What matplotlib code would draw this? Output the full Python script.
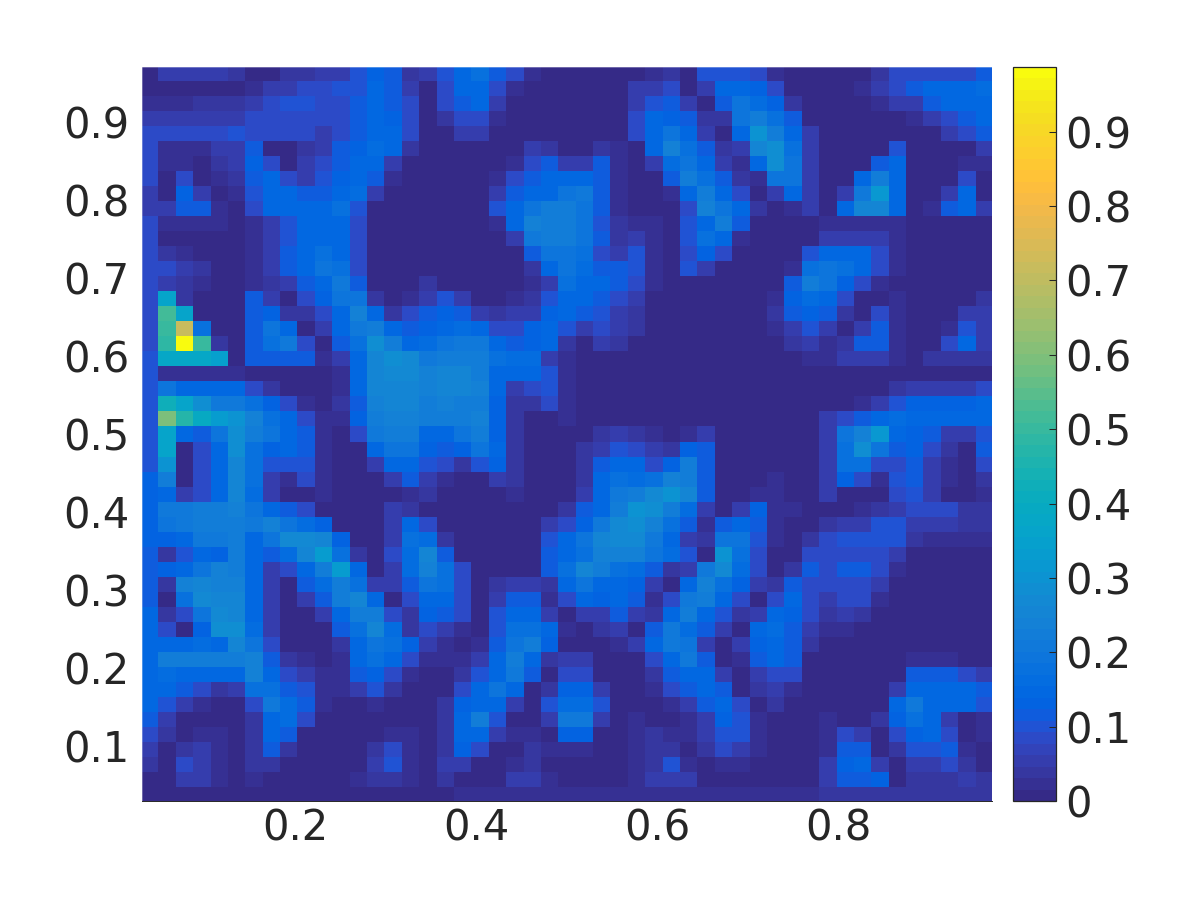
import matplotlib
matplotlib.use('Agg')
import matplotlib.pyplot as plt
from matplotlib.colors import ListedColormap
import numpy as np

# Values in hundredths, top row first, split in three blocks of columns
left_block = [
    [1,6,6,6,6,4,1,1,4,4,5,6,10,13,11,4,6],
    [1,1,1,1,1,1,2,5,6,8,8,10,10,14,11,6,0],
    [2,2,2,4,4,4,5,8,10,10,8,8,11,14,11,8,0],
    [5,5,5,5,6,6,9,9,9,8,8,8,12,14,13,8,0],
    [8,8,8,8,8,10,8,8,8,8,5,8,12,15,14,8,0],
    [8,2,2,2,5,6,12,1,1,4,6,11,13,16,14,4,0],
    [8,2,2,1,4,5,13,9,1,5,9,12,14,15,6,0,0],
    [8,1,9,1,2,4,11,15,9,5,10,13,15,12,2,0,0],
    [6,1,13,5,1,2,10,15,15,11,12,14,16,5,0,0,0],
    [6,5,11,11,2,1,8,14,15,15,14,17,10,1,0,0,0],
    [9,2,2,2,2,1,2,6,10,14,15,14,8,1,0,0,0],
    [9,1,1,1,1,1,2,6,10,14,15,15,8,1,0,0,0],
    [9,4,2,1,1,1,2,6,12,14,17,15,8,1,0,0,0],
    [9,8,6,4,1,1,2,6,12,14,19,17,8,1,0,0,0],
    [9,5,4,2,1,1,2,4,6,12,15,21,11,1,0,0,4],
    [9,37,4,0,0,0,11,5,1,8,13,20,19,4,1,2,6],
    [8,52,37,0,0,0,11,13,4,4,9,15,24,15,4,8,11],
    [8,50,72,18,0,0,11,19,15,0,5,14,21,23,14,12,13],
    [8,49,99,50,4,0,11,18,21,9,1,11,18,29,23,15,16],
    [10,38,38,38,35,0,11,12,12,12,2,6,15,26,28,27,21],
    [10,2,2,2,2,2,1,1,1,1,1,2,15,26,27,27,24],
    [10,19,14,14,14,14,9,4,0,0,0,2,15,25,26,26,24],
    [10,42,36,29,21,21,17,13,8,2,0,4,12,24,25,25,22],
    [10,60,47,39,33,30,24,17,15,9,2,2,13,23,24,24,22],
    [10,37,14,11,19,29,22,20,15,11,2,0,9,21,22,22,15],
    [10,37,0,8,15,28,18,13,14,11,2,0,1,15,19,19,13],
    [10,30,0,8,15,25,17,10,10,10,2,0,0,6,14,14,10],
    [13,23,0,8,15,25,17,6,2,8,2,0,0,0,6,11,5],
    [13,15,5,8,15,25,16,6,1,1,2,0,0,0,0,2,4],
    [13,21,21,22,22,24,20,15,12,8,1,0,0,0,6,4,0],
    [13,20,21,22,22,23,21,24,19,16,13,1,0,0,6,15,8],
    [13,13,15,21,21,22,15,19,27,27,25,13,0,0,6,18,16],
    [12,4,10,15,13,23,15,12,16,25,33,18,4,1,8,16,25],
    [11,13,15,19,24,22,15,5,9,15,22,33,14,0,6,16,24],
    [12,4,24,25,24,24,14,5,1,11,16,22,18,5,5,12,19],
    [12,0,17,27,25,26,14,5,0,5,12,22,25,14,0,9,15],
    [14,4,8,20,27,25,15,5,0,0,6,14,23,23,8,4,13],
    [14,8,0,13,28,28,16,6,0,0,1,11,17,25,16,4,8],
    [14,15,15,16,15,26,19,9,1,0,0,4,14,20,17,13,5],
    [14,22,22,22,22,23,24,12,4,2,1,2,14,17,15,9,2],
    [14,16,14,14,14,14,24,14,9,6,2,2,11,13,9,2,1],
    [14,15,11,9,4,6,18,17,12,10,2,2,5,10,4,1,0],
    [14,10,6,2,1,0,9,21,16,11,2,0,1,2,1,0,0],
    [12,5,1,0,1,0,4,15,16,9,0,0,0,0,0,1,0],
    [8,4,1,2,2,0,4,14,12,1,0,0,0,0,2,2,0],
    [6,1,4,5,2,0,4,12,4,0,0,0,0,4,8,2,0],
    [4,0,8,5,2,0,4,4,0,0,0,0,0,6,10,2,0],
    [1,1,5,5,2,0,2,0,0,0,0,0,2,4,4,2,0],
    [1,1,1,1,1,1,1,1,1,1,1,1,1,1,1,1,1],
]
middle_block = [
    [10,14,17,12,8,2,0,0,0,0,0,0,2,4,1,10],
    [8,15,15,9,2,0,0,0,0,0,0,5,6,8,1,6],
    [8,11,14,6,0,0,0,0,0,0,0,6,10,12,5,0],
    [4,8,8,2,0,0,0,0,0,0,0,8,14,13,11,4],
    [0,5,5,0,0,0,0,0,0,0,0,8,15,20,14,6],
    [0,0,0,0,0,5,4,0,0,4,2,0,14,24,18,11],
    [0,0,0,0,2,9,12,6,6,12,2,0,5,16,20,15],
    [0,0,0,2,8,12,14,14,14,12,2,0,0,11,23,18],
    [0,0,0,6,11,14,14,20,21,12,2,0,0,2,15,22],
    [0,0,0,10,15,20,22,23,20,12,2,0,0,0,9,24],
    [0,0,0,2,15,24,23,23,19,10,4,2,2,0,10,15],
    [0,0,0,0,6,21,22,22,20,11,4,5,2,0,10,17],
    [0,0,0,0,0,12,20,20,18,9,5,10,2,0,9,13],
    [0,0,0,0,0,4,15,20,16,11,11,10,2,0,10,6],
    [1,0,0,0,0,2,6,18,14,14,12,8,2,0,1,0],
    [10,5,0,1,2,4,10,14,14,12,9,5,1,0,0,0],
    [13,12,5,4,5,6,13,15,12,10,6,4,0,0,0,0],
    [14,16,15,8,8,13,14,10,5,9,5,4,0,0,0,0],
    [19,21,21,15,11,13,14,4,1,5,4,0,0,0,0,0],
    [23,23,23,18,16,16,6,2,0,0,1,0,0,0,0,0],
    [25,25,23,14,14,15,10,2,0,0,0,0,0,0,0,0],
    [25,25,24,14,6,9,10,2,0,0,0,0,0,0,0,0],
    [24,22,23,13,4,4,9,2,0,0,0,0,0,0,0,0],
    [23,23,24,13,4,0,1,2,0,0,0,0,0,0,0,0],
    [15,19,22,13,4,0,0,0,0,4,5,4,2,0,2,6],
    [11,13,19,14,4,0,0,0,4,5,10,9,5,4,13,11],
    [8,4,10,13,4,0,0,0,4,12,14,14,9,13,22,11],
    [2,1,1,6,4,0,0,0,4,15,18,16,18,24,23,11],
    [1,0,0,0,2,0,0,0,5,15,21,22,27,30,25,11],
    [0,0,0,0,0,0,1,4,11,15,22,30,29,22,16,6],
    [0,0,0,0,0,1,5,8,13,21,27,28,24,18,11,2],
    [4,0,0,0,0,1,10,14,19,25,27,27,21,14,5,4],
    [12,0,0,0,0,1,11,15,18,24,24,24,20,16,10,0],
    [17,9,0,0,1,1,11,18,26,23,18,16,11,4,6,21],
    [17,9,0,4,6,5,4,15,20,14,15,13,6,0,14,24],
    [15,9,0,6,11,11,2,9,15,13,14,11,2,8,21,22],
    [11,8,0,10,14,14,5,0,5,6,11,6,4,15,22,15],
    [6,2,0,10,17,17,14,2,0,4,5,0,11,21,16,12],
    [2,1,2,12,20,22,13,0,0,0,2,5,14,21,20,6],
    [2,2,6,14,22,15,4,5,5,0,0,1,8,15,21,11],
    [0,4,10,15,21,11,1,8,8,1,0,0,4,12,15,14],
    [1,9,15,20,14,0,4,13,13,5,0,0,2,8,12,15],
    [4,13,14,14,5,0,10,16,16,10,0,0,0,2,5,12],
    [4,15,22,10,0,0,5,21,21,5,0,2,0,0,2,6],
    [4,15,15,5,2,2,1,13,13,0,0,2,4,2,2,6],
    [4,13,9,0,1,4,2,2,2,0,0,2,4,4,0,4],
    [5,5,1,1,2,4,1,0,0,0,0,2,4,10,2,1],
    [4,0,1,1,5,5,2,1,0,0,0,2,5,5,5,0],
    [1,2,2,2,2,2,2,2,2,2,2,2,2,2,2,2],
]
right_block = [
    [10,10,8,2,0,0,0,0,1,4,9,9,9,9,8,11],
    [14,14,13,9,0,0,0,1,2,6,9,12,14,14,15,16],
    [11,20,16,13,4,0,0,0,0,2,5,6,11,14,14,14],
    [4,20,23,18,11,0,0,0,0,0,0,2,6,9,12,14],
    [0,14,30,22,15,5,0,0,0,0,0,0,1,5,9,11],
    [4,6,25,28,18,5,0,0,0,0,10,0,0,0,1,5],
    [6,2,14,29,19,5,0,0,0,12,14,0,0,0,2,2],
    [12,4,2,19,19,5,0,0,14,22,14,0,0,0,8,1],
    [15,9,1,6,14,5,0,6,21,31,14,0,0,5,14,0],
    [19,14,4,0,2,5,0,15,26,26,14,0,2,12,14,6],
    [22,11,0,0,0,0,2,2,2,2,2,0,1,1,1,1],
    [15,2,0,0,0,1,5,5,5,5,2,0,0,0,0,0],
    [9,0,0,0,0,10,14,14,14,9,2,0,0,0,0,0],
    [0,0,0,0,2,17,20,18,14,9,2,0,0,0,0,0],
    [0,0,0,0,12,22,19,13,9,2,0,0,0,0,0,0],
    [0,0,0,2,13,16,14,9,1,1,2,0,0,0,0,4],
    [0,0,0,4,12,13,12,4,1,8,2,0,0,0,5,6],
    [0,0,0,2,5,10,5,0,6,11,2,0,0,2,10,5],
    [0,0,0,0,4,5,2,4,11,11,2,0,0,8,14,6],
    [0,0,0,0,0,2,2,5,5,5,2,0,4,4,4,4],
    [0,0,0,0,0,0,0,0,0,0,0,1,1,1,1,1],
    [0,0,0,0,0,0,0,0,0,1,4,6,6,6,6,9],
    [0,0,0,0,0,0,0,0,2,5,10,13,13,13,13,14],
    [0,0,0,1,0,0,5,9,12,14,16,14,14,14,14,15],
    [0,0,1,1,0,0,5,19,24,32,14,13,11,5,5,10],
    [0,0,1,1,1,0,5,18,29,19,11,13,9,4,0,11],
    [0,0,1,1,1,0,5,17,18,8,8,12,5,2,0,8],
    [0,0,1,2,1,0,5,13,8,2,10,11,5,2,0,4],
    [0,0,2,2,1,0,6,1,0,1,8,10,5,1,1,2],
    [0,5,13,2,2,0,0,1,2,4,6,9,8,8,4,4],
    [11,15,11,2,1,1,4,5,6,10,10,5,5,5,4,4],
    [19,19,10,2,1,4,8,10,10,10,10,4,2,2,2,2],
    [30,17,9,0,0,8,9,9,9,9,6,0,0,0,0,0],
    [27,16,9,0,4,11,8,11,11,9,2,0,0,0,0,0],
    [18,13,5,4,11,9,8,9,9,5,0,0,0,0,0,0],
    [15,9,0,8,14,8,5,8,8,2,0,0,0,0,0,0],
    [10,4,5,14,13,8,4,5,4,0,0,0,0,0,0,0],
    [5,1,14,16,11,5,2,2,0,0,0,0,0,0,0,0],
    [0,6,13,15,11,4,0,0,0,0,0,0,0,0,0,0],
    [0,2,11,14,11,1,0,0,0,0,0,2,2,2,1,1],
    [5,0,6,9,8,1,0,0,0,0,0,11,11,11,8,6],
    [11,1,4,5,2,1,0,0,0,0,5,15,15,15,14,11],
    [15,9,0,4,0,0,0,0,0,0,15,21,15,14,14,10],
    [13,10,2,0,0,0,2,1,0,4,13,18,15,6,1,2],
    [10,10,2,0,0,0,2,9,5,1,8,13,14,9,0,2],
    [8,5,2,0,0,0,2,12,12,1,4,10,10,11,2,1],
    [2,2,1,0,0,0,5,13,14,6,1,6,6,9,4,1],
    [1,0,0,0,0,0,5,11,11,13,1,4,4,4,5,4],
    [2,2,2,2,2,2,4,4,4,4,4,4,4,4,4,4],
]
x_ticks = [0.2, 0.4, 0.6, 0.8]
y_ticks = [0.1, 0.2, 0.3, 0.4, 0.5, 0.6, 0.7, 0.8, 0.9]
bar_ticks = [0, 0.1, 0.2, 0.3, 0.4, 0.5, 0.6, 0.7, 0.8, 0.9]

# MATLAB parula, 64 levels
parula = ListedColormap([
    (0.2081,0.1663,0.5292),(0.2116,0.1898,0.5777),(0.2123,0.2138,0.6270),(0.2081,0.2386,0.6771),
    (0.1959,0.2645,0.7279),(0.1707,0.2919,0.7792),(0.1253,0.3242,0.8303),(0.0591,0.3598,0.8683),
    (0.0117,0.3875,0.8820),(0.0060,0.4086,0.8828),(0.0165,0.4266,0.8786),(0.0329,0.4430,0.8720),
    (0.0498,0.4586,0.8641),(0.0629,0.4737,0.8554),(0.0723,0.4887,0.8467),(0.0779,0.5040,0.8384),
    (0.0793,0.5200,0.8312),(0.0749,0.5375,0.8263),(0.0641,0.5570,0.8240),(0.0488,0.5772,0.8228),
    (0.0343,0.5966,0.8199),(0.0265,0.6137,0.8135),(0.0239,0.6287,0.8038),(0.0231,0.6418,0.7913),
    (0.0228,0.6535,0.7768),(0.0267,0.6642,0.7607),(0.0384,0.6743,0.7436),(0.0590,0.6838,0.7254),
    (0.0843,0.6928,0.7062),(0.1133,0.7015,0.6859),(0.1453,0.7098,0.6646),(0.1801,0.7177,0.6424),
    (0.2178,0.7250,0.6193),(0.2586,0.7317,0.5954),(0.3022,0.7376,0.5712),(0.3482,0.7424,0.5473),
    (0.3953,0.7459,0.5244),(0.4420,0.7481,0.5033),(0.4871,0.7491,0.4840),(0.5300,0.7491,0.4661),
    (0.5709,0.7485,0.4494),(0.6099,0.7473,0.4337),(0.6473,0.7456,0.4188),(0.6834,0.7435,0.4044),
    (0.7184,0.7411,0.3905),(0.7525,0.7384,0.3768),(0.7858,0.7356,0.3633),(0.8185,0.7327,0.3498),
    (0.8507,0.7299,0.3360),(0.8824,0.7274,0.3217),(0.9139,0.7258,0.3063),(0.9450,0.7261,0.2886),
    (0.9739,0.7314,0.2666),(0.9938,0.7455,0.2403),(0.9990,0.7653,0.2164),(0.9955,0.7861,0.1967),
    (0.9880,0.8066,0.1794),(0.9789,0.8271,0.1633),(0.9697,0.8481,0.1475),(0.9626,0.8705,0.1309),
    (0.9589,0.8949,0.1132),(0.9598,0.9218,0.0948),(0.9661,0.9514,0.0755),(0.9763,0.9831,0.0538),
])

values = np.hstack([left_block, middle_block, right_block]) / 100

# Cell edges on a 1/52 grid, outer cells cut by the axes limits
inner_edges = (np.arange(2, 50) + 0.5) / 52
edges = np.concatenate([[0.03], inner_edges, [0.97]])

text_colour = '#262626'
plt.rcParams['font.family'] = 'DejaVu Sans'
plt.rcParams['font.size'] = 30

fig = plt.figure(figsize=(12, 9), dpi=100)
ax = fig.add_axes([142/1200, 1 - 801/900, 850/1200, 734/900])
cax = fig.add_axes([1013/1200, 1 - 801/900, 43/1200, 734/900])

mesh = ax.pcolormesh(edges, edges, values[::-1], cmap=parula, vmin=0, vmax=0.987)
ax.set_xlim(0.03, 0.97)
ax.set_ylim(0.03, 0.97)
ax.set_xticks(x_ticks)
ax.set_yticks(y_ticks)
ax.tick_params(axis='x', length=0, colors=text_colour, pad=5)
ax.tick_params(axis='y', length=0, colors=text_colour, pad=9)
for side in ['top', 'right', 'left']:
    ax.spines[side].set_color((1, 1, 1, 0.3))
    ax.spines[side].set_linewidth(0.7)
ax.spines['bottom'].set_color(text_colour)
ax.spines['bottom'].set_linewidth(0.7)

cb = fig.colorbar(mesh, cax=cax)
cb.set_ticks(bar_ticks)
cb.set_ticklabels(['0', '0.1', '0.2', '0.3', '0.4', '0.5', '0.6', '0.7', '0.8', '0.9'])
cax.tick_params(direction='in', length=5, width=0.75, color=text_colour, labelcolor=text_colour, pad=7)
cb.outline.set_edgecolor(text_colour)
cb.outline.set_linewidth(0.9)

fig.savefig('out.png', dpi=100)
